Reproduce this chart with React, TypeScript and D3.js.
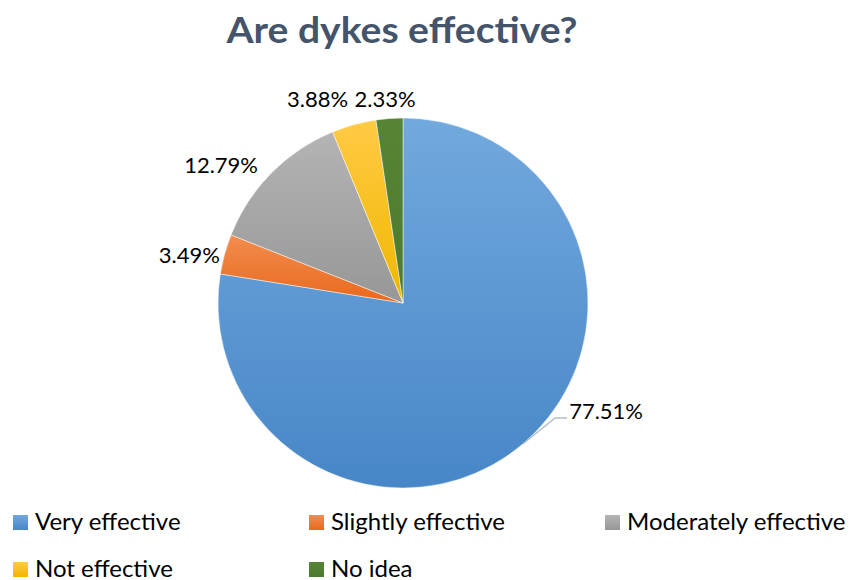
import React from "react";
import * as d3 from "d3";

const categories = ["Very effective", "Slightly effective", "Moderately effective", "Not effective", "No idea"];
const values = [77.51, 3.49, 12.79, 3.88, 2.33];
const labels = ["77.51%", "3.49%", "12.79%", "3.88%", "2.33%"];
const colorTop = ["#72A9DD", "#F28D4F", "#B4B4B4", "#FFCA45", "#568537"];
const colorBottom = ["#4786C7", "#E8691C", "#979797", "#F0B700", "#4C7A2E"];

const W = 852;
const H = 580;
const cx = 403;
const cy = 303;
const R = 185;
// label layout nudges (px) relative to polar anchor at R + 20
const labelNudge: [number, number][] = [[70, -48], [-16, 6], [-36, 6], [-31, -6], [-3, 0]];

export default function App() {
  const pie = d3.pie<number>().sort(null).value((d) => d)(values);
  const arc = d3.arc<d3.PieArcDatum<number>>().innerRadius(0).outerRadius(R);
  const font = "Lato, 'Open Sans', sans-serif";

  const polar = (a: number, r: number): [number, number] => [cx + r * Math.sin(a), cy - r * Math.cos(a)];

  const legendCols = [13, 309, 605];
  const legendRows = [515, 562];

  return (
    <svg width={W} height={H} style={{ position: "absolute", left: 0, top: 0, background: "#fff" }}>
      <defs>
        {categories.map((c, i) => (
          <linearGradient key={c} id={`g${i}`} x1="0" y1="0" x2="0" y2="1">
            <stop offset="0%" stopColor={colorTop[i]} />
            <stop offset="100%" stopColor={colorBottom[i]} />
          </linearGradient>
        ))}
      </defs>
      <text x={402} y={43} textAnchor="middle" fontFamily={font} fontWeight="bold" fontSize={36} fill="#44546A" textLength={351} lengthAdjust="spacingAndGlyphs">
        Are dykes effective?
      </text>
      <g transform={`translate(${cx},${cy})`}>
        {pie.map((d, i) => (
          <path key={i} d={arc(d) || ""} fill={`url(#g${i})`} stroke="#ffffff" strokeOpacity={0.6} strokeWidth={0.8} />
        ))}
      </g>
      {pie.map((d, i) => {
        const mid = (d.startAngle + d.endAngle) / 2;
        const [px, py] = polar(mid, R + 20);
        const lx = px + labelNudge[i][0];
        const ly = py + labelNudge[i][1];
        return (
          <text key={i} x={lx} y={ly + 8} textAnchor="middle" fontFamily={font} fontSize={22} fill="#000">
            {labels[i]}
          </text>
        );
      })}
      {(() => {
        const d = pie[0];
        const mid = (d.startAngle + d.endAngle) / 2;
        const [sx, sy] = polar(mid, R);
        const lx = polar(mid, R + 20)[0] + labelNudge[0][0];
        const ly = polar(mid, R + 20)[1] + labelNudge[0][1];
        const ex = lx - 39;
        const ey = ly + 7;
        return (
          <polyline points={`${sx},${sy} ${ex - 12},${ey} ${ex},${ey}`} fill="none" stroke="#B3BECC" strokeWidth={1.5} />
        );
      })()}
      {categories.map((c, i) => {
        const col = i % 3;
        const row = Math.floor(i / 3);
        const x = legendCols[col];
        const y = legendRows[row];
        return (
          <g key={c}>
            <rect x={x} y={y} width={15} height={15} fill={`url(#g${i})`} />
            <text x={x + 22} y={y + 15} fontFamily={font} fontSize={24} fill="#000">
              {c}
            </text>
          </g>
        );
      })}
    </svg>
  );
}
